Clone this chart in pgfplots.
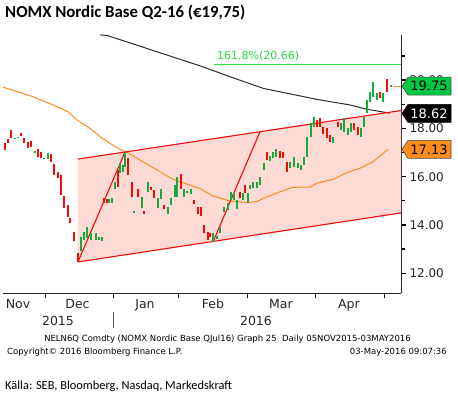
\documentclass[border=0pt]{standalone}
\usepackage{fontspec}
\setmainfont{DejaVu Sans}
\newfontfamily\calibri{Carlito}
\usepackage{pgfplots}
\usepackage{pgfplotstable}
\pgfplotsset{compat=1.18}

\definecolor{cgreen}{RGB}{20,170,60}
\definecolor{cred}{RGB}{245,10,10}
\definecolor{corange}{RGB}{255,140,30}
\definecolor{cpink}{RGB}{253,218,212}
\definecolor{cfib}{RGB}{40,220,60}
\definecolor{tgreen}{RGB}{0,200,70}
\definecolor{cblk}{RGB}{45,45,45}

\pgfplotstableread{
x lo hi
14.7 17.54 17.59
18 17.62 17.66
34.7 16.97 17.06
44.3 16.72 16.79
47.7 16.72 16.97
81 12.94 13.50
84 13.38 13.72
87 13.48 13.93
90.5 13.36 13.65
95.5 13.36 13.67
98.8 13.36 13.52
101.8 13.32 13.49
109.3 14.90 15.08
112 14.90 15.11
115 15.49 15.79
120.3 16.14 16.58
122.5 16.21 16.48
125 16.41 16.98
134.3 14.51 14.59
141.7 14.69 15.17
148.3 15.38 15.79
157.7 14.69 15.11
161 15.06 15.48
167.7 14.46 14.73
171 14.83 15.11
175 15.17 15.66
177.3 15.17 16.00
184 15.15 15.48
187.3 15.31 15.42
190.7 15.28 15.48
213.3 13.31 13.66
216.7 13.41 13.54
220 13.66 13.93
224.3 14.55 14.76
227.7 14.62 14.90
231 15.04 15.38
234.3 15.04 15.31
237 14.65 15.04
242.7 15.04 15.31
247.7 14.90 15.31
250.3 15.48 15.66
253.3 15.52 15.79
256.7 15.52 15.79
260 15.66 16.00
264 16.28 16.55
270 16.66 16.86
272.7 16.76 17.04
276 16.83 17.13
290 16.35 16.62
294 16.41 16.83
297.7 16.35 16.55
300.7 16.28 16.48
304 16.48 16.83
307.3 16.83 17.66
311 17.66 18.21
314 18.07 18.48
333.3 17.38 17.66
341 17.93 18.21
344.3 17.86 18.42
347.7 17.73 18.00
351 17.86 18.21
361 17.66 18.00
364.3 18.07 18.48
366.7 18.63 19.18
370 19.11 19.52
373.3 19.31 19.93
376.7 19.18 19.45
382.5 19.11 19.45
391 19.73 19.80
}\upcandles

\pgfplotstableread{
x lo hi
4.7 17.11 17.41
7.7 17.38 17.55
11.3 17.59 17.93
21.3 17.70 17.80
24.3 17.38 17.59
28 17.20 17.42
31.3 17.22 17.48
37.7 16.83 17.13
41 16.79 17.01
51 16.62 16.94
54.3 16.07 16.51
57.7 15.93 16.21
61 15.24 16.07
64.3 14.69 15.20
67.7 14.34 14.83
70.5 14.10 14.29
74.3 13.35 13.72
77.8 12.47 12.84
104.3 14.90 15.11
107 14.90 15.06
117.7 15.59 16.28
127.8 16.07 16.76
131.7 15.17 15.79
138.3 15.15 15.48
144 14.46 14.59
151 15.45 15.59
154.3 15.11 15.45
164.3 14.65 14.83
181 15.48 16.11
194 14.87 15.04
197.5 14.46 14.75
201 14.37 14.73
204.3 13.66 14.00
207.7 13.38 13.72
210.3 13.52 13.68
239.5 15.11 15.38
244.7 15.31 15.66
266.7 16.69 17.04
280 16.76 17.08
283.3 16.76 17.04
286.7 16.21 16.62
316.7 18.07 18.35
320 18.07 18.42
323.3 17.77 18.05
326.7 17.60 18.00
329.5 17.45 17.73
337.7 18.07 18.28
354.3 17.93 18.21
357.7 17.73 18.07
380 19.25 19.52
386.7 19.52 20.03
}\downcandles

\pgfplotstableread{
x y
3 19.71
33 19.31
53 18.97
68 18.69
77 18.35
90 18.00
100 17.66
110 17.38
120 17.13
128 16.99
140 16.69
157 16.28
173 15.89
200 15.51
213 15.20
230 14.99
248 14.93
257 14.97
267 15.17
283 15.42
293 15.56
310 15.57
317 15.73
333 15.89
347 16.17
360 16.35
373 16.62
388 17.13
}\maorange

\pgfplotstableread{
x y
100 21.87
107 21.85
200 20.59
230 20.14
263 19.66
317 19.20
350 18.97
367 18.79
390 18.63
}\mablack

\begin{document}
\begin{tikzpicture}[x=1pt,y=1pt]
\useasboundingbox (-3,-104) rectangle (455,293);
\begin{axis}[
  at={(0,0)}, anchor=south west,
  scale only axis, width=398pt, height=258pt,
  xmin=3, xmax=401, ymin=11.184, ymax=21.867,
  axis x line*=bottom, axis y line*=right,
  axis line style={line width=0.8pt, black!85},
  xtick={45,113,178,247,315,384}, xticklabels={,,,,,},
  ytick={12,14,16,18,20}, minor ytick={13,15,17,19,21},
  tick align=outside, major tick length=5pt, minor tick length=4pt,
  xtick style={black, line width=0.8pt},
  ytick style={black, line width=1.3pt},
  yticklabel style={font=\fontsize{12}{12}\selectfont, text=black!85,
    /pgf/number format/.cd, fixed, fixed zerofill, precision=2, assume math mode=true},
]
% channel fill
\addplot[fill=cpink, draw=none] coordinates {(78,12.47) (401,14.50) (401,18.74) (78,16.73) (78,12.47)};
% moving averages
\addplot[corange, line width=1pt, mark=none] table[x=x,y=y] {\maorange};
\addplot[cblk, line width=1pt, mark=none] table[x=x,y=y] {\mablack};
% channel lines
\addplot[cred, line width=1.1pt, mark=none] coordinates {(78,16.73) (401,18.74)};
\addplot[cred, line width=1.1pt, mark=none] coordinates {(78,12.47) (401,14.50)};
\addplot[cred, line width=1.1pt, mark=none] coordinates {(78,12.47) (125,17.02)};
\addplot[cred, line width=1.1pt, mark=none] coordinates {(213,13.30) (260,17.86)};
% fib line
\addplot[cfib, line width=0.9pt, mark=none] coordinates {(214,20.66) (401,20.66)};
% candles (body from low to high of each day)
\addplot[cgreen, line width=2pt, mark=none, quiver={u=0, v=\thisrow{hi}-\thisrow{lo}}]
  table[x=x, y=lo] {\upcandles};
\addplot[cred, line width=2pt, mark=none, quiver={u=0, v=\thisrow{hi}-\thisrow{lo}}]
  table[x=x, y=lo] {\downcandles};
% last price connector
\addplot[corange, line width=1pt, mark=none] coordinates {(393,19.75) (401,19.75)};
\node[anchor=base west, text=cfib, font=\fontsize{11}{11}\selectfont, inner sep=0pt] at (axis cs:217,20.86) {161.8\%(20.66)};
\coordinate (tg) at (axis cs:401,19.75);
\coordinate (tb) at (axis cs:401,18.62);
\coordinate (to) at (axis cs:401,17.13);
\end{axis}
% price tags
\filldraw[fill=tgreen, draw=black!70, line width=0.6pt] (tg) ++(1,0) -- ++(6,9) -- ++(43,0) -- ++(0,-18) -- ++(-43,0) -- cycle;
\node[font=\fontsize{13}{13}\selectfont, text=black] at ([xshift=28pt]tg) {19.75};
\filldraw[fill=black, draw=black, line width=0.6pt] (tb) ++(1,0) -- ++(6,9) -- ++(43,0) -- ++(0,-18) -- ++(-43,0) -- cycle;
\node[font=\fontsize{13}{13}\selectfont, text=white] at ([xshift=28pt]tb) {18.62};
\filldraw[fill=corange, draw=black!70, line width=0.6pt] (to) ++(1,0) -- ++(6,9) -- ++(43,0) -- ++(0,-18) -- ++(-43,0) -- cycle;
\node[font=\fontsize{13}{13}\selectfont, text=black] at ([xshift=28pt]to) {17.13};
% title
\node[anchor=base west, inner sep=0pt, font=\calibri\bfseries\fontsize{16.8}{17}\selectfont] at (2,275) {NOMX Nordic Base Q2-16 (€19,75)};
% month labels
\begin{scope}[every node/.style={anchor=base, inner sep=0pt, font=\fontsize{12.5}{13}\selectfont, text=black!85}]
\node at (15,-15) {Nov};
\node at (74.5,-15) {Dec};
\node at (142,-15) {Jan};
\node at (210,-15) {Feb};
\node at (278,-15) {Mar};
\node at (346,-15) {Apr};
\node at (55,-32) {2015};
\node at (253,-32) {2016};
\end{scope}
\draw[black!60, line width=0.7pt] (110,-19) -- (110,-35);
% footer
\node[anchor=base, inner sep=0pt, font=\fontsize{8.5}{9}\selectfont] at (224.5,-48.5) {NELN6Q Comdty (NOMX Nordic Base QJul16) Graph 25\ \ Daily 05NOV2015-03MAY2016};
\node[anchor=base west, inner sep=0pt, font=\fontsize{8.5}{9}\selectfont] at (4,-61.5) {Copyright© 2016 Bloomberg Finance L.P.};
\node[anchor=base east, inner sep=0pt, font=\fontsize{8.5}{9}\selectfont] at (444,-61.5) {03-May-2016 09:07:36};
\node[anchor=base west, inner sep=0pt, font=\calibri\fontsize{12.4}{13}\selectfont] at (2,-96) {Källa: SEB, Bloomberg, Nasdaq, Markedskraft};
\end{tikzpicture}
\end{document}
